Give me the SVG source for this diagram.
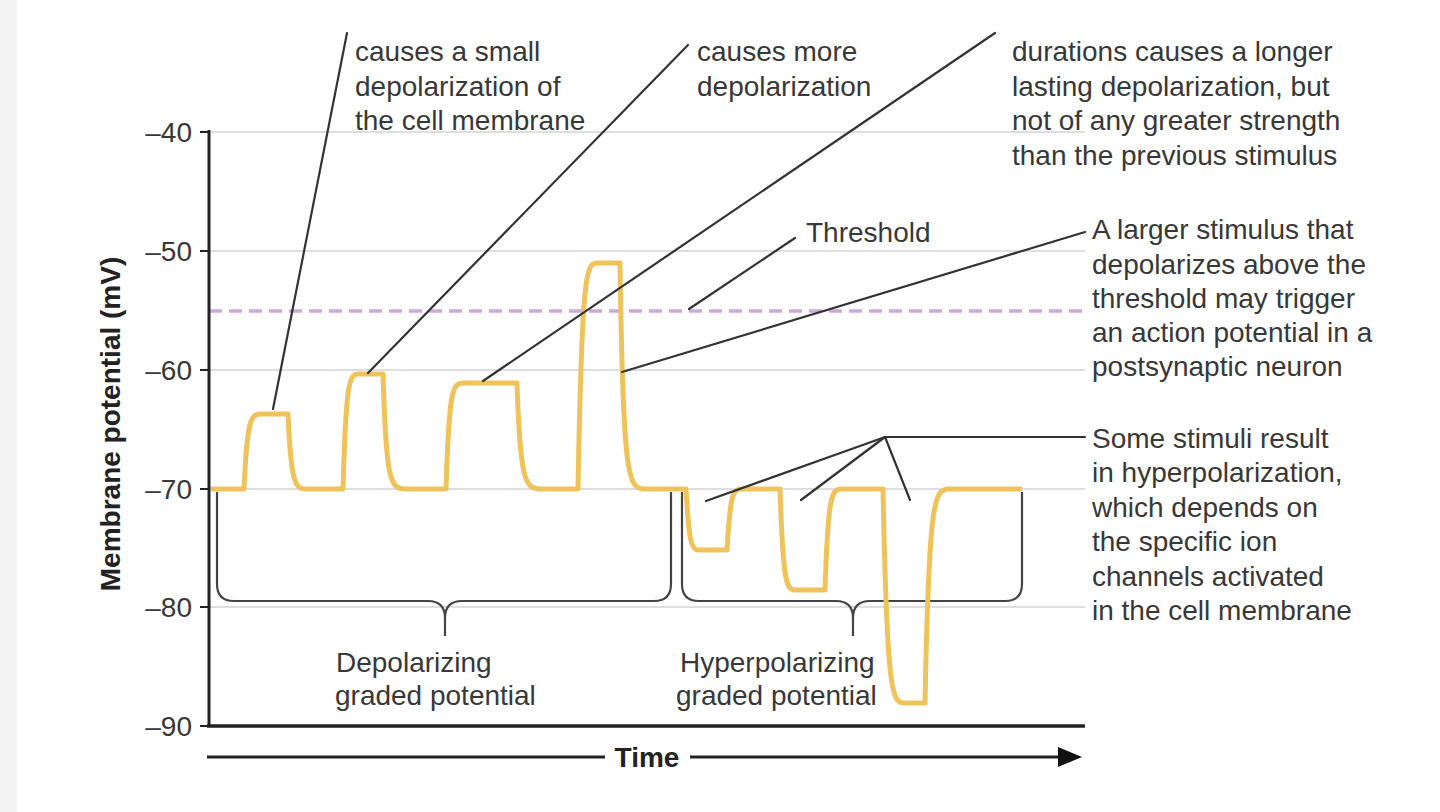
<svg xmlns="http://www.w3.org/2000/svg" width="1440" height="812" viewBox="0 0 1440 812">
<style>
  .lbl { font-family: "Liberation Sans", Arial, sans-serif; font-size: 28px; fill: #383838; }
  .tick { font-family: "Liberation Sans", Arial, sans-serif; font-size: 28px; fill: #383838; text-anchor: end; }
  .bold { font-family: "Liberation Sans", Arial, sans-serif; font-size: 28px; font-weight: bold; fill: #222; }
  .grid { stroke: #dedede; stroke-width: 1.8; fill: none; }
  .leader { stroke: #333; stroke-width: 2.2; fill: none; stroke-linecap: round; }
  .brace { stroke: #444; stroke-width: 2.2; fill: none; }
  .axis { stroke: #222; fill: none; }
  .trace { stroke: #f0c35a; stroke-width: 5; fill: none; stroke-linejoin: round; }
</style>
<rect x="0" y="0" width="1440" height="812" fill="#ffffff"/>
<rect x="0" y="0" width="17" height="812" fill="#f4f4f4"/>

<g id="grid">
  <line class="grid" x1="209" y1="132" x2="1085" y2="132"/>
  <line class="grid" x1="209" y1="251" x2="1085" y2="251"/>
  <line class="grid" x1="209" y1="370" x2="1085" y2="370"/>
  <line class="grid" x1="209" y1="489" x2="1085" y2="489"/>
  <line class="grid" x1="209" y1="607" x2="1085" y2="607"/>
</g>

<g id="threshold-line">
  <line x1="209" y1="311" x2="1085" y2="311" stroke="#cfa6dc" stroke-width="3.5" stroke-dasharray="13 7"/>
</g>

<g id="axes">
  <line class="axis" x1="209" y1="130" x2="209" y2="727" stroke-width="3"/>
  <line class="axis" x1="207" y1="726" x2="1085" y2="726" stroke-width="3.5"/>
  <g stroke="#222" stroke-width="2">
    <line x1="200" y1="132" x2="209" y2="132"/>
    <line x1="200" y1="251" x2="209" y2="251"/>
    <line x1="200" y1="370" x2="209" y2="370"/>
    <line x1="200" y1="489" x2="209" y2="489"/>
    <line x1="200" y1="607" x2="209" y2="607"/>
    <line x1="200" y1="726" x2="209" y2="726"/>
  </g>
  <text class="tick" x="192" y="142">–40</text>
  <text class="tick" x="192" y="261">–50</text>
  <text class="tick" x="192" y="380">–60</text>
  <text class="tick" x="192" y="499">–70</text>
  <text class="tick" x="192" y="617">–80</text>
  <text class="tick" x="192" y="736">–90</text>
  <text class="bold" transform="translate(120,424) rotate(-90)" text-anchor="middle" font-size="29">Membrane potential (mV)</text>
</g>

<g id="time-axis">
  <line class="axis" x1="207" y1="757" x2="605" y2="757" stroke-width="3"/>
  <line class="axis" x1="690" y1="757" x2="1062" y2="757" stroke-width="3"/>
  <polygon points="1058,747 1082,757 1058,767" fill="#111"/>
  <text class="bold" x="647" y="767" text-anchor="middle">Time</text>
</g>

<g id="braces">
  <path class="brace" d="M217,492 V584 Q217,601 234,601 H428 Q445,601 445,618 V636 M445,618 Q445,601 462,601 H654 Q671,601 671,584 V492"/>
  <path class="brace" d="M682,492 V584 Q682,601 699,601 H836 Q853,601 853,618 V636 M853,618 Q853,601 870,601 H1005 Q1022,601 1022,584 V492"/>
</g>

<g id="trace">
  <path class="trace" d="M211,489 H244 C247,424 250,414 260,414 H288 C291,479 294,489 306,489
    H343 C346,384 349,374 358,374 H383 C386,479 390,489 405,489
    H446 C449,393 452,383 463,383 H517 C520,479 525,489 540,489
    H578 C582,273 586,263 597,263 H620 C623,479 628,489 645,489
    H686 C689,540 691,550 698,550 H727 C730,499 732,489 741,489
    H780 C783,580 786,590 795,590 H825 C828,499 831,489 841,489
    H883 C887,693 892,703 904,703 H925 C929,499 934,489 949,489 H1022"/>
</g>

<g id="connectors">
  <line class="leader" x1="347" y1="33" x2="273" y2="409"/>
  <line class="leader" x1="688" y1="45" x2="368" y2="373"/>
  <line class="leader" x1="995" y1="33" x2="483" y2="381"/>
  <line class="leader" x1="795" y1="238" x2="689" y2="309"/>
  <line class="leader" x1="1085" y1="232" x2="622" y2="372"/>
  <polyline class="leader" points="1085,437 885,437 706,501"/>
  <line class="leader" x1="885" y1="437" x2="801" y2="500"/>
  <line class="leader" x1="885" y1="437" x2="910" y2="500"/>
</g>

<g id="label-small">
  <text class="lbl" x="355" y="61">causes a small</text>
  <text class="lbl" x="355" y="95.5">depolarization of</text>
  <text class="lbl" x="355" y="130">the cell membrane</text>
</g>
<g id="label-more">
  <text class="lbl" x="697" y="61">causes more</text>
  <text class="lbl" x="697" y="95.5">depolarization</text>
</g>
<g id="label-longer">
  <text class="lbl" x="1012" y="61">durations causes a longer</text>
  <text class="lbl" x="1012" y="95.5">lasting depolarization, but</text>
  <text class="lbl" x="1012" y="130">not of any greater strength</text>
  <text class="lbl" x="1012" y="164.5">than the previous stimulus</text>
</g>
<g id="label-threshold">
  <text class="lbl" x="806" y="242">Threshold</text>
</g>
<g id="label-larger">
  <text class="lbl" x="1092" y="239">A larger stimulus that</text>
  <text class="lbl" x="1092" y="274">depolarizes above the</text>
  <text class="lbl" x="1092" y="308">threshold may trigger</text>
  <text class="lbl" x="1092" y="342">an action potential in a</text>
  <text class="lbl" x="1092" y="376">postsynaptic neuron</text>
</g>
<g id="label-hyper">
  <text class="lbl" x="1092" y="448">Some stimuli result</text>
  <text class="lbl" x="1092" y="482">in hyperpolarization,</text>
  <text class="lbl" x="1092" y="517">which depends on</text>
  <text class="lbl" x="1092" y="551">the specific ion</text>
  <text class="lbl" x="1092" y="586">channels activated</text>
  <text class="lbl" x="1092" y="620">in the cell membrane</text>
</g>
<g id="label-depolarizing">
  <text class="lbl" x="336" y="672">Depolarizing</text>
  <text class="lbl" x="335" y="705">graded potential</text>
</g>
<g id="label-hyperpolarizing">
  <text class="lbl" x="680" y="672">Hyperpolarizing</text>
  <text class="lbl" x="676" y="705">graded potential</text>
</g>
</svg>
